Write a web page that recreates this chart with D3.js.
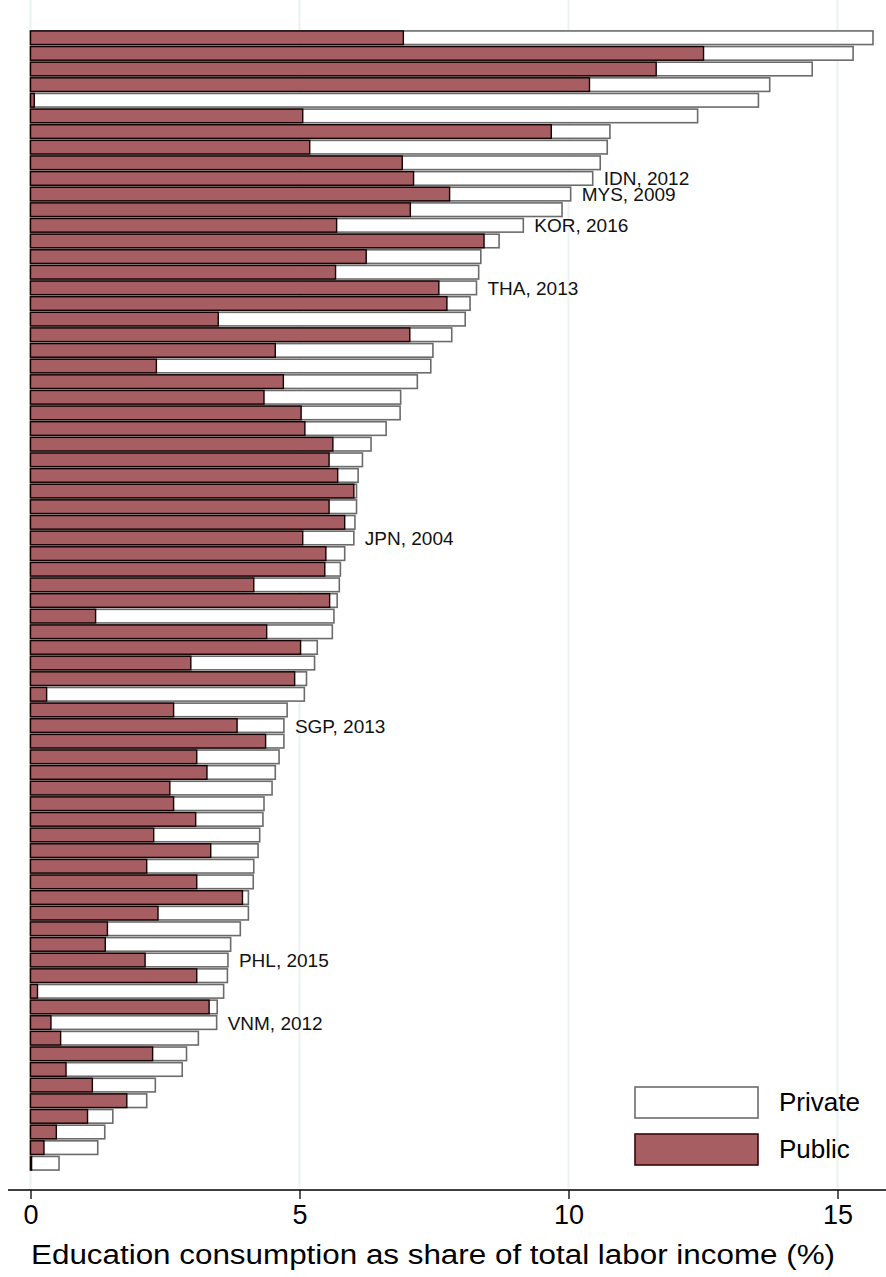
<!DOCTYPE html>
<html><head><meta charset="utf-8">
<script src="https://cdn.jsdelivr.net/npm/d3@7"></script>
<style>body{margin:0;background:#fff}text{font-family:Arial,"Liberation Sans",sans-serif}</style>
</head><body><svg id="c" width="886" height="1277"></svg>
<script>
// Total (private + public) and public shares, sorted by total
const totals = [15.66,15.29,14.53,13.74,13.53,12.40,10.77,10.72,10.59,10.45,10.04,9.88,9.16,8.71,8.37,8.33,8.29,8.17,8.08,7.83,
  7.48,7.44,7.19,6.88,6.87,6.61,6.33,6.17,6.09,6.06,6.06,6.03,6.01,5.84,5.76,5.74,5.70,5.64,5.61,5.33,
  5.28,5.13,5.09,4.77,4.71,4.71,4.62,4.55,4.49,4.34,4.32,4.26,4.23,4.15,4.14,4.05,4.05,3.90,3.72,3.67,
  3.66,3.59,3.47,3.46,3.12,2.90,2.82,2.32,2.16,1.53,1.38,1.25,0.53];
const publics = [6.93,12.51,11.63,10.39,0.07,5.06,9.68,5.19,6.91,7.12,7.79,7.06,5.69,8.43,6.24,5.67,7.59,7.74,3.49,7.05,
  4.55,2.34,4.70,4.34,5.03,5.10,5.62,5.55,5.71,6.01,5.55,5.84,5.06,5.49,5.47,4.15,5.56,1.21,4.39,5.02,
  2.98,4.91,0.30,2.66,3.84,4.37,3.09,3.28,2.59,2.66,3.07,2.29,3.35,2.16,3.09,3.94,2.37,1.43,1.39,2.13,
  3.09,0.13,3.32,0.38,0.56,2.27,0.66,1.15,1.79,1.06,0.48,0.25,0.02];
const labelRows = [9,10,12,16,32,44,59,63];
const labelTexts = ["IDN, 2012","MYS, 2009","KOR, 2016","THA, 2013","JPN, 2004","SGP, 2013","PHL, 2015","VNM, 2012"];
const xTicks = [0,5,10,15];

const svg = d3.select('#c');
const x = d3.scaleLinear().domain([0,15]).range([30.5,837.5]);
const y = d3.scaleBand().domain(d3.range(totals.length)).range([30,1171]).paddingInner(0.13).paddingOuter(0.06);

// gridlines
svg.append('g').selectAll('line').data(xTicks).join('line')
  .attr('x1', d => x(d)).attr('x2', d => x(d)).attr('y1', 0).attr('y2', 1188)
  .attr('stroke', '#eaf2f3').attr('stroke-width', 2);

svg.append('g').selectAll('rect').data(totals).join('rect')
  .attr('x', x(0)).attr('y', (d,i) => y(i)).attr('width', d => x(d) - x(0)).attr('height', y.bandwidth())
  .attr('fill', '#fff').attr('stroke', '#6b6b6b').attr('stroke-width', 1.6);

svg.append('g').selectAll('rect').data(publics).join('rect')
  .attr('x', x(0)).attr('y', (d,i) => y(i)).attr('width', d => x(d) - x(0)).attr('height', y.bandwidth())
  .attr('fill', '#a65e62').attr('stroke', '#120000').attr('stroke-width', 1.4);

svg.append('g').selectAll('text').data(labelRows).join('text')
  .attr('x', d => x(totals[d]) + 11).attr('y', d => y(d) + y.bandwidth()/2 + 7)
  .attr('font-size', 19).attr('fill', '#111').text((d,i) => labelTexts[i]);

// x axis
const ax = svg.append('g').attr('transform', 'translate(0,1190)')
  .call(d3.axisBottom(x).tickValues(xTicks).tickSize(9).tickPadding(6));
ax.select('.domain').remove();
ax.selectAll('.tick line').attr('stroke', '#000').attr('stroke-width', 1.3);
ax.selectAll('.tick text').attr('font-size', 27).attr('fill', '#000').style('font-family', 'Arial, "Liberation Sans", sans-serif');
svg.append('line').attr('x1', 8).attr('x2', 886).attr('y1', 1190).attr('y2', 1190).attr('stroke', '#000').attr('stroke-width', 1.3);

svg.append('text').attr('x', 433).attr('y', 1264).attr('text-anchor', 'middle')
  .attr('font-size', 27).attr('textLength', 804).attr('lengthAdjust', 'spacingAndGlyphs')
  .attr('fill', '#000').text('Education consumption as share of total labor income (%)');

// legend
const leg = [{k:'Private', f:'#fff', s:'#6b6b6b'}, {k:'Public', f:'#a65e62', s:'#3a0509'}];
const lg = svg.append('g').selectAll('g').data(leg).join('g')
  .attr('transform', (d,i) => `translate(635,${1087 + i*47})`);
lg.append('rect').attr('width', 123).attr('height', 31).attr('fill', d => d.f).attr('stroke', d => d.s).attr('stroke-width', 1.6);
lg.append('text').attr('x', 144).attr('y', 24).attr('font-size', 26).attr('fill', '#000').text(d => d.k);
</script></body></html>
